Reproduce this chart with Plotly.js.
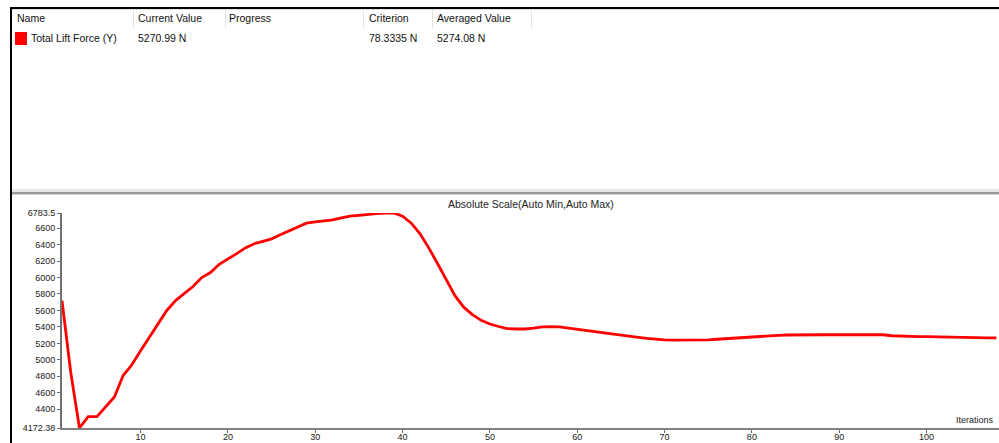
<!DOCTYPE html>
<html>
<head>
<meta charset="utf-8">
<script src="https://cdn.plot.ly/plotly-3.0.1.min.js"></script>
<style>
  html, body { margin: 0; padding: 0; background: #ffffff; width: 999px; height: 443px; overflow: hidden; }
  #frame { position: absolute; left: 0; top: 0; width: 999px; height: 443px; }
  .bk { position: absolute; background: #000; }
  .hdr { position: absolute; top: 12px; font-family: "Liberation Sans", Arial, sans-serif; font-size: 10.5px; color: #111; white-space: nowrap; }
  .row { position: absolute; top: 32px; font-family: "Liberation Sans", Arial, sans-serif; font-size: 10.5px; color: #111; white-space: nowrap; }
  .sep { position: absolute; top: 10px; width: 1px; height: 18px; background: #e3e3e3; }
  #chart { position: absolute; left: 12px; top: 195px; width: 987px; height: 248px; }
</style>
</head>
<body>
<div id="frame">
  <div class="bk" style="left:10px; top:7px; width:989px; height:2px;"></div>
  <div style="position:absolute; left:12px; top:9px; width:987px; height:1px; background:#e0e0e0;"></div>
  <div class="bk" style="left:10px; top:7px; width:2px; height:436px;"></div>
  <div style="position:absolute; left:12px; top:189px; width:987px; height:3px; background:#e6e6e6;"></div>
  <div style="position:absolute; left:12px; top:192px; width:987px; height:2px; background:#9a9a9a;"></div>
  <div style="position:absolute; left:12px; top:194px; width:987px; height:1px; background:#d0d0d0;"></div>
  <div id="table"></div>
  <div id="chart"></div>
</div>
<script>
// ---- table data ----
const headerLabels = ["Name", "Current Value", "Progress", "Criterion", "Averaged Value"];
const headerX = [17, 138, 229, 369, 437];
const separatorX = [133, 225, 363, 432, 531];
const monitorName = "Total Lift Force (Y)";
const currentValue = "5270.99 N";
const criterionValue = "78.3335 N";
const averagedValue = "5274.08 N";

// ---- chart data ----
const iterations = [1,2,3,4,5,6,7,8,9,10,11,12,13,14,15,16,17,18,19,20,
  21,22,23,24,25,26,27,28,29,30,31,32,33,34,35,36,37,38,39,40,
  41,42,43,44,45,46,47,48,49,50,51,52,53,54,55,56,57,58,59,60,
  61,62,63,64,65,66,67,68,69,70,71,72,73,74,75,76,77,78,79,80,
  81,82,83,84,85,86,87,88,89,90,91,92,93,94,95,96,97,98,99,100,
  101,102,103,104,105,106,107,108];
const liftForce = [5720,4850,4172.38,4310,4310,4430,4550,4810,4940,5110,
  5270,5440,5600,5720,5800,5890,6000,6060,6160,6220,
  6290,6360,6410,6440,6470,6520,6570,6610,6660,6675,
  6685,6700,6725,6745,6755,6767,6775,6781,6783.5,6745,
  6660,6530,6360,6170,5970,5780,5640,5550,5480,5435,
  5405,5380,5375,5375,5385,5400,5403,5400,5385,5370,
  5355,5342,5330,5315,5300,5285,5272,5260,5250,5242,
  5240,5240,5240,5240,5242,5250,5258,5264,5268,5278,
  5288,5293,5298,5302,5305,5305,5305,5305,5305,5305,
  5305,5305,5305,5305,5305,5293,5287,5285,5283,5281,
  5278,5275,5272,5268,5266,5266,5266,5266];
const yTickVals = [4172.38,4400,4600,4800,5000,5200,5400,5600,5800,6000,6200,6400,6600,6783.5];
const yTickText = ["4172.38","4400","4600","4800","5000","5200","5400","5600","5800","6000","6200","6400","6600","6783.5"];
const xTickVals = [10,20,30,40,50,60,70,80,90,100];
const chartTitle = "Absolute Scale(Auto Min,Auto Max)";
const xLabel = "Iterations";

// ---- build table ----
const table = document.getElementById("table");
headerLabels.forEach((t, i) => {
  const d = document.createElement("div");
  d.className = "hdr"; d.style.left = headerX[i] + "px"; d.textContent = t;
  table.appendChild(d);
});
separatorX.forEach(x => {
  const s = document.createElement("div");
  s.className = "sep"; s.style.left = x + "px"; table.appendChild(s);
});
const sw = document.createElement("div");
sw.style.cssText = "position:absolute; left:15px; top:32px; width:12px; height:13px; background:#ff0000;";
table.appendChild(sw);
[[monitorName, 31], [currentValue, 138], [criterionValue, 369], [averagedValue, 437]].forEach(([t, x]) => {
  const d = document.createElement("div");
  d.className = "row"; d.style.left = x + "px"; d.textContent = t;
  table.appendChild(d);
});

// ---- chart ----
const axisFont = { family: "Liberation Sans, Arial, sans-serif", size: 9, color: "#222" };
Plotly.newPlot("chart", [{
  x: iterations,
  y: liftForce,
  type: "scatter",
  mode: "lines",
  line: { color: "#ff0000", width: 2.8 },
  cliponaxis: false,
  hoverinfo: "skip"
}], {
  width: 987, height: 248,
  margin: { l: 50, r: 0, t: 18, b: 15, pad: 0 },
  paper_bgcolor: "#ffffff",
  plot_bgcolor: "#ffffff",
  showlegend: false,
  xaxis: {
    range: [1, 108.3],
    tickvals: xTickVals,
    ticktext: xTickVals.map(String),
    ticks: "outside", ticklen: 3, tickwidth: 1, tickcolor: "#707070",
    ticklabelstandoff: -4,
    showline: true, linecolor: "#808080", linewidth: 2,
    showgrid: false, zeroline: false,
    tickfont: axisFont
  },
  yaxis: {
    range: [4172.38, 6783.5],
    tickvals: yTickVals,
    ticktext: yTickText,
    ticks: "outside", ticklen: 3, tickwidth: 1, tickcolor: "#707070",
    showline: true, linecolor: "#707070", linewidth: 2,
    showgrid: false, zeroline: false,
    tickfont: axisFont
  },
  annotations: [
    { text: chartTitle, xref: "paper", yref: "paper", x: 0.5, y: 1, yanchor: "bottom", xanchor: "center",
      yshift: 1, showarrow: false, font: { family: "Liberation Sans, Arial, sans-serif", size: 10.5, color: "#222" } },
    { text: xLabel, xref: "paper", yref: "paper", x: 1, y: 0, xanchor: "right", yanchor: "bottom",
      xshift: -3, yshift: 1, showarrow: false, font: axisFont }
  ]
}, { staticPlot: true, displayModeBar: false });
</script>
</body>
</html>
